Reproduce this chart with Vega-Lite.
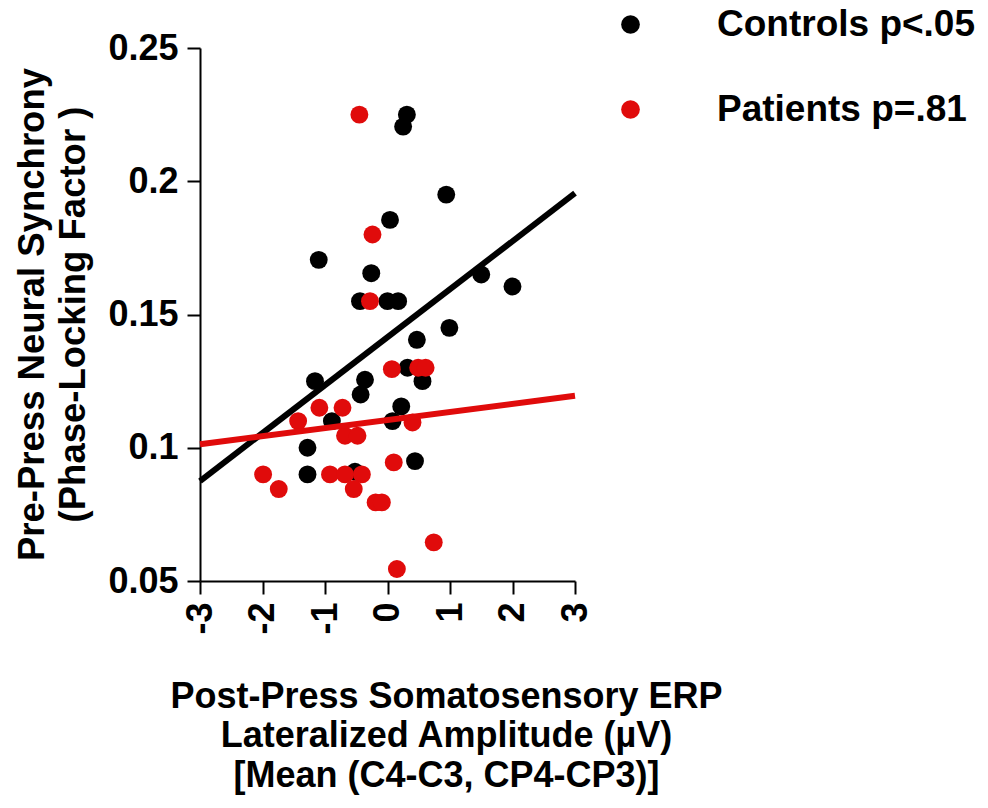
{
  "$schema": "https://vega.github.io/schema/vega-lite/v6.json",
  "autosize": {"type": "none"},
  "padding": {"left": 200, "top": 48, "right": 413, "bottom": 227},
  "width": 375,
  "height": 533,
  "background": "white",
  "config": {
    "view": {"stroke": null},
    "font": "Liberation Sans",
    "axis": {"grid": false, "domainColor": "black", "domainWidth": 2, "tickColor": "black", "tickWidth": 2, "tickSize": 13, "labelFont": "Liberation Sans", "labelFontWeight": "bold", "labelFontSize": 36, "labelColor": "black", "titleFont": "Liberation Sans", "titleFontWeight": "bold", "titleFontSize": 36, "titleColor": "black"}
  },
  "datasets": {
    "pts": [
      {"group": "Controls p<.05", "x": 0.31, "y": 0.225},
      {"group": "Controls p<.05", "x": 0.25, "y": 0.2205},
      {"group": "Controls p<.05", "x": 0.94, "y": 0.195},
      {"group": "Controls p<.05", "x": 0.04, "y": 0.1855},
      {"group": "Controls p<.05", "x": -1.1, "y": 0.1705},
      {"group": "Controls p<.05", "x": -0.26, "y": 0.1655},
      {"group": "Controls p<.05", "x": -0.44, "y": 0.155},
      {"group": "Controls p<.05", "x": 0.0, "y": 0.155},
      {"group": "Controls p<.05", "x": 0.17, "y": 0.155},
      {"group": "Controls p<.05", "x": 1.5, "y": 0.165},
      {"group": "Controls p<.05", "x": 2.0, "y": 0.1605},
      {"group": "Controls p<.05", "x": 0.99, "y": 0.145},
      {"group": "Controls p<.05", "x": 0.47, "y": 0.1405},
      {"group": "Controls p<.05", "x": 0.32, "y": 0.13},
      {"group": "Controls p<.05", "x": 0.56, "y": 0.125},
      {"group": "Controls p<.05", "x": -1.16, "y": 0.125},
      {"group": "Controls p<.05", "x": -0.36, "y": 0.1255},
      {"group": "Controls p<.05", "x": -0.43, "y": 0.12},
      {"group": "Controls p<.05", "x": -0.89, "y": 0.11},
      {"group": "Controls p<.05", "x": 0.22, "y": 0.1155},
      {"group": "Controls p<.05", "x": 0.08, "y": 0.11},
      {"group": "Controls p<.05", "x": -1.28, "y": 0.1},
      {"group": "Controls p<.05", "x": -1.28, "y": 0.09},
      {"group": "Controls p<.05", "x": -0.52, "y": 0.091},
      {"group": "Controls p<.05", "x": 0.44, "y": 0.095},
      {"group": "Patients p=.81", "x": -0.45, "y": 0.225},
      {"group": "Patients p=.81", "x": -0.24, "y": 0.18},
      {"group": "Patients p=.81", "x": -0.28, "y": 0.155},
      {"group": "Patients p=.81", "x": 0.07, "y": 0.1295},
      {"group": "Patients p=.81", "x": 0.49, "y": 0.13},
      {"group": "Patients p=.81", "x": 0.61, "y": 0.13},
      {"group": "Patients p=.81", "x": -1.09, "y": 0.115},
      {"group": "Patients p=.81", "x": -0.72, "y": 0.115},
      {"group": "Patients p=.81", "x": -1.43, "y": 0.11},
      {"group": "Patients p=.81", "x": 0.4, "y": 0.1095},
      {"group": "Patients p=.81", "x": -0.68, "y": 0.1045},
      {"group": "Patients p=.81", "x": -0.48, "y": 0.1045},
      {"group": "Patients p=.81", "x": -1.99, "y": 0.09},
      {"group": "Patients p=.81", "x": -1.74, "y": 0.0845},
      {"group": "Patients p=.81", "x": -0.92, "y": 0.09},
      {"group": "Patients p=.81", "x": -0.68, "y": 0.09},
      {"group": "Patients p=.81", "x": -0.41, "y": 0.09},
      {"group": "Patients p=.81", "x": -0.54, "y": 0.0845},
      {"group": "Patients p=.81", "x": 0.1, "y": 0.0945},
      {"group": "Patients p=.81", "x": -0.19, "y": 0.0795},
      {"group": "Patients p=.81", "x": -0.09, "y": 0.0795},
      {"group": "Patients p=.81", "x": 0.74, "y": 0.0645},
      {"group": "Patients p=.81", "x": 0.15, "y": 0.0545}
    ],
    "fits": [
      {"group": "Controls", "x": -3, "y": 0.0875},
      {"group": "Controls", "x": 3, "y": 0.1955},
      {"group": "Patients", "x": -3, "y": 0.1013},
      {"group": "Patients", "x": 3, "y": 0.1195}
    ]
  },
  "layer": [
    {
      "data": {"name": "pts"},
      "mark": {"type": "point", "shape": "circle", "filled": true, "opacity": 1, "size": 320},
      "encoding": {
        "x": {
          "field": "x", "type": "quantitative",
          "scale": {"domain": [-3, 3], "nice": false, "zero": false},
          "axis": {
            "values": [-3, -2, -1, 0, 1, 2, 3],
            "labelExpr": "'' + datum.value",
            "labelAngle": -90,
            "labelPadding": 8,
            "title": ["Post-Press Somatosensory ERP", "Lateralized Amplitude (µV)", "[Mean (C4-C3, CP4-CP3)]"],
            "titleX": 246,
            "titleY": 126,
            "titleAlign": "center",
            "titleBaseline": "alphabetic",
            "titleLineHeight": 39.5
          }
        },
        "y": {
          "field": "y", "type": "quantitative",
          "scale": {"domain": [0.05, 0.25], "nice": false, "zero": false},
          "axis": {
            "values": [0.05, 0.1, 0.15, 0.2, 0.25],
            "format": "~g",
            "labelPadding": 9,
            "title": ["Pre-Press Neural Synchrony", "(Phase-Locking Factor )"],
            "titleFontSize": 36.5,
            "titleAngle": -90,
            "titleX": -157,
            "titleY": 266,
            "titleAlign": "center",
            "titleBaseline": "alphabetic",
            "titleLineHeight": 41
          }
        },
        "color": {
          "field": "group", "type": "nominal",
          "scale": {"domain": ["Controls p<.05", "Patients p=.81"], "range": ["#000000", "#e00b0b"]},
          "legend": {
            "title": null,
            "orient": "none",
            "legendX": 412,
            "legendY": -42,
            "padding": 0,
            "symbolType": "circle",
            "symbolSize": 350,
            "symbolStrokeWidth": 0,
            "labelFont": "Liberation Sans",
            "labelFontWeight": "bold",
            "labelFontSize": 37,
            "labelColor": "black",
            "labelOffset": 68,
            "labelLimit": 400,
            "rowPadding": 47
          }
        }
      }
    },
    {
      "data": {"name": "fits"},
      "mark": {"type": "line", "strokeWidth": 6, "strokeCap": "butt"},
      "encoding": {
        "x": {"field": "x", "type": "quantitative"},
        "y": {"field": "y", "type": "quantitative"},
        "detail": {"field": "group", "type": "nominal"},
        "stroke": {
          "field": "group", "type": "nominal",
          "scale": {"domain": ["Controls", "Patients"], "range": ["#000000", "#e00b0b"]},
          "legend": null
        },
        "strokeWidth": {
          "field": "group", "type": "nominal",
          "scale": {"domain": ["Controls", "Patients"], "range": [6, 5]},
          "legend": null
        }
      }
    }
  ]
}
